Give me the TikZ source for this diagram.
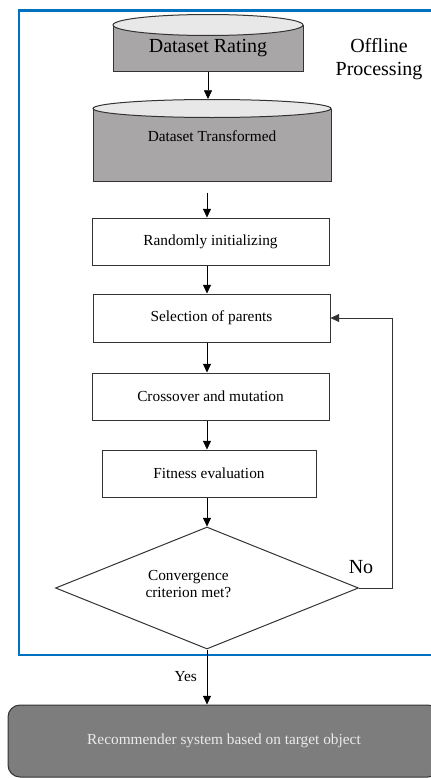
\documentclass[tikz,border=0pt]{standalone}
\usepackage{fontspec}
\setmainfont{Liberation Serif}
\usetikzlibrary{shapes.geometric,arrows.meta}
\definecolor{frameblue}{RGB}{0,112,192}
\definecolor{dbgray}{RGB}{168,166,166}
\definecolor{dbtop}{RGB}{232,232,232}
\definecolor{recgray}{RGB}{125,125,125}
\begin{document}
\begin{tikzpicture}[x=0.75pt,y=-0.75pt,
  >={Triangle[width=6pt,length=6.5pt]},
  box/.style={draw=black!80, line width=0.75pt, inner sep=0pt, font=\fontsize{11.5}{13}\selectfont},
  dbody/.style={draw=black!80, line width=0.75pt, fill=dbgray, inner sep=0pt},
  dtop/.style={ellipse, draw=black!80, line width=0.75pt, fill=dbtop, inner sep=0pt}]
\clip (0,0) rectangle (431,778);

% offline part
\draw[frameblue, line width=1.9pt] (19,10.5) rectangle (450,655);
\node[align=center, font=\fontsize{15}{17}\selectfont] (offline) at (379,59) {Offline\\Processing};

\node[dbody, minimum width=190*0.75pt, minimum height=45.5*0.75pt, font=\fontsize{15}{17}\selectfont] (dsr) at (208,48.25) {Dataset Rating};
\node[dtop, minimum width=190*0.75pt, minimum height=21*0.75pt] (dsrtop) at (dsr.north) {};
\node[dbody, minimum width=238*0.75pt, minimum height=72*0.75pt,
  label={[yshift=6.75pt, font=\fontsize{11.5}{13}\selectfont]center:Dataset Transformed}] (dst) at (212,145) {};
\node[dtop, minimum width=238*0.75pt, minimum height=18*0.75pt] (dsttop) at (dst.north) {};

\node[box, minimum width=237*0.75pt, minimum height=47*0.75pt] (rand) at (210.5,241.5) {Randomly initializing};
\node[box, minimum width=237*0.75pt, minimum height=48*0.75pt] (sel) at (211.5,318) {Selection of parents};
\node[box, minimum width=237*0.75pt, minimum height=47*0.75pt] (cross) at (210.5,396.5) {Crossover and mutation};
\node[box, minimum width=214*0.75pt, minimum height=47*0.75pt] (fit) at (209,473.5) {Fitness evaluation};
\node[diamond, draw=black!80, line width=0.75pt, inner sep=0pt, minimum width=303*0.75pt, minimum height=122*0.75pt,
  label={[align=center, xshift=-14pt, yshift=3pt, font=\fontsize{11.5}{13}\selectfont]center:Convergence\\criterion met?}] (conv) at (207,588) {};

% online part
\node[rounded corners=9pt, draw=black!80, line width=0.75pt, fill=recgray, text=white!92!black,
  minimum width=432*0.75pt, minimum height=72*0.75pt, font=\fontsize{11.5}{13}\selectfont] (rec) at (224,741) {Recommender system based on target object};

\draw[->] (dsr.south) -- (dsr.south |- dsttop.north);
\draw[->, shorten <=8.25pt] (dst.south -| 207,0) -- (207,0 |- rand.north);
\draw[->] (rand.south -| 207,0) -- (207,0 |- sel.north);
\draw[->] (sel.south -| 207,0) -- (207,0 |- cross.north);
\draw[->] (cross.south -| 207,0) -- (207,0 |- fit.north);
\draw[->] (fit.south -| 207,0) -- (conv.north);
\draw[->, black!80] (conv.east) -- ++(33,0) |- (sel.east);
\node[font=\fontsize{15}{17}\selectfont] (no) at (361,567) {No};
\draw[->] (conv.south) -- node[left, xshift=-4pt, font=\fontsize{11.5}{13}\selectfont] (yes) {Yes} (conv.south |- rec.north);

\end{tikzpicture}
\end{document}
